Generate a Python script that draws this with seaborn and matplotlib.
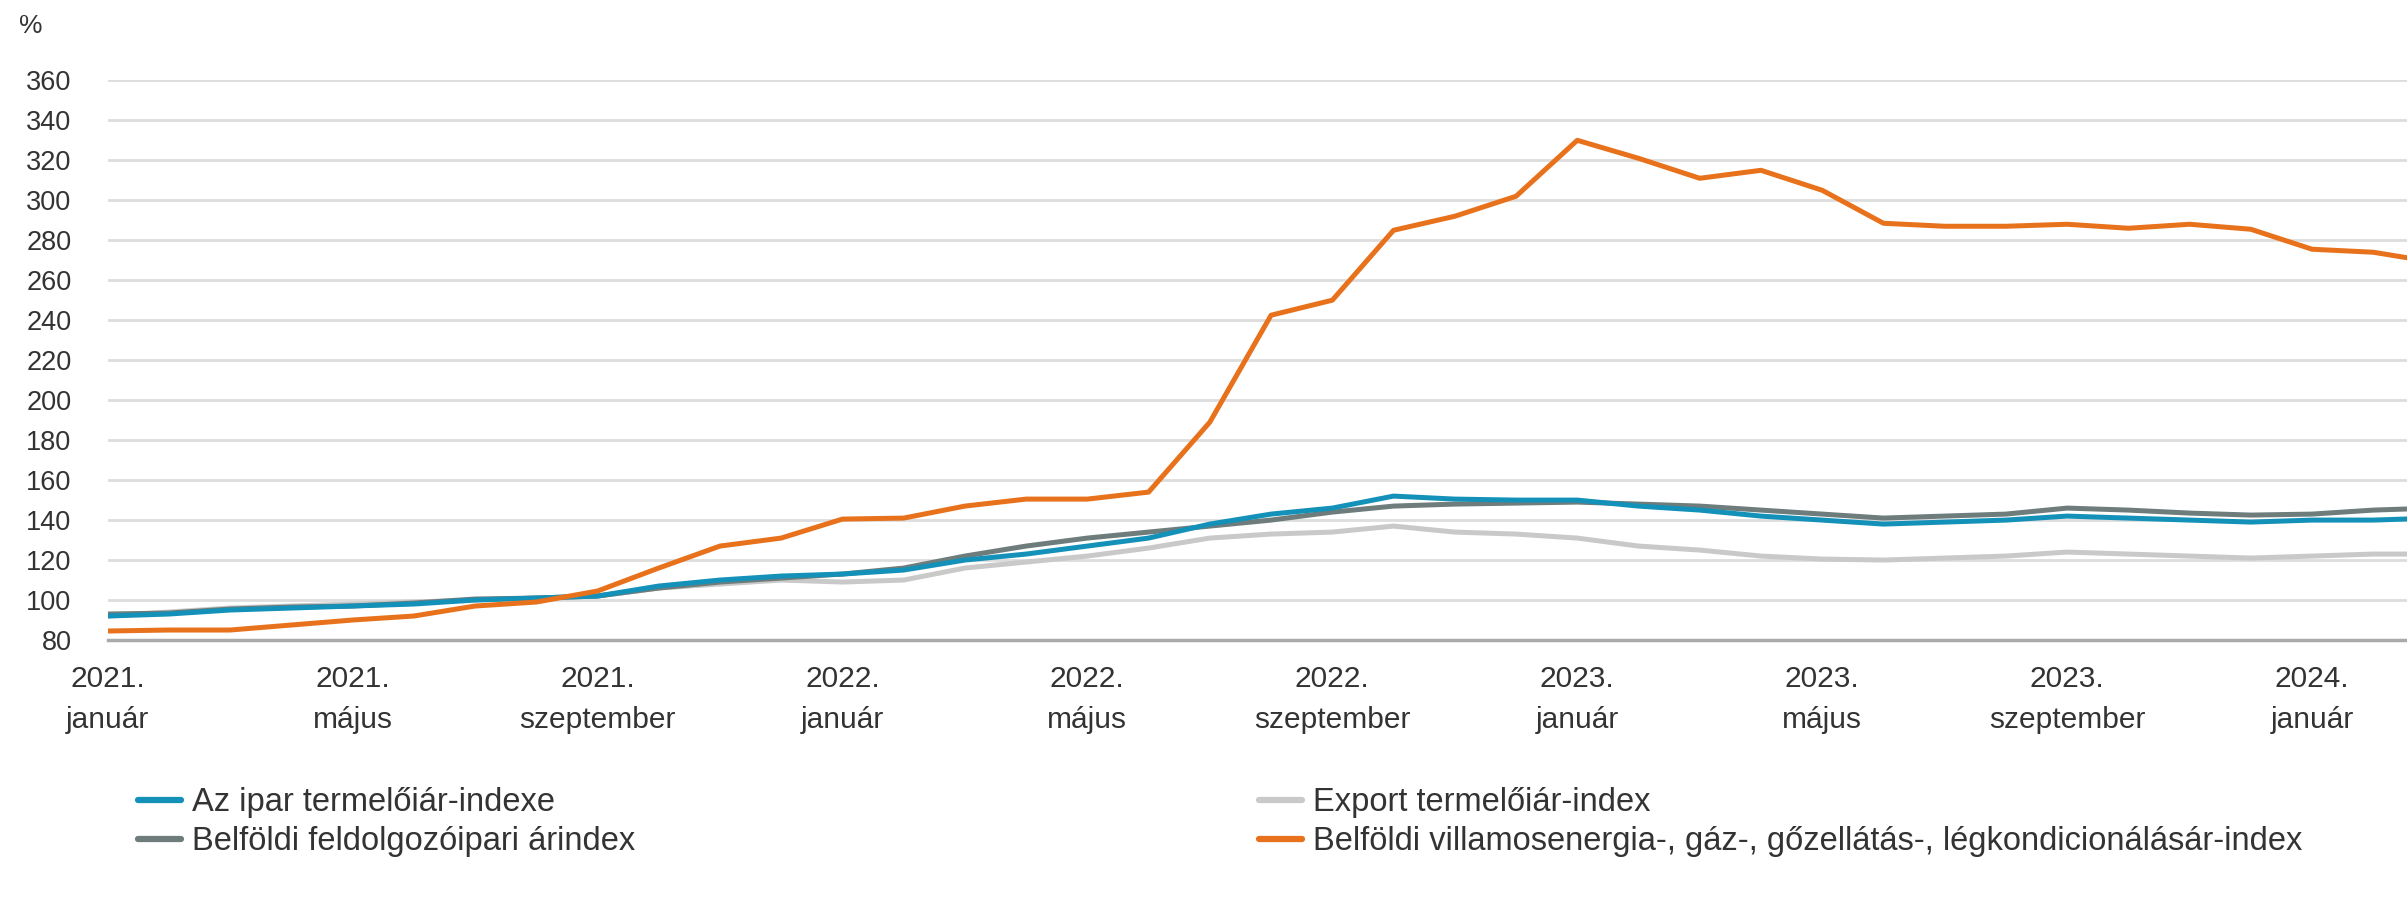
import pandas as pd
import seaborn as sns
import matplotlib
matplotlib.use('Agg')
import matplotlib.pyplot as plt
from matplotlib.lines import Line2D

# Monthly data, 2021 January .. 2024 March (index 0 = 2021 január)
series_names = [
    'Az ipar termelőiár-indexe',
    'Belföldi feldolgozóipari árindex',
    'Export termelőiár-index',
    'Belföldi villamosenergia-, gáz-, gőzellátás-, légkondicionálásár-index',
]

ipar = [92, 93, 95, 96, 97, 98, 100, 101, 102, 107, 110, 112,
        113, 115, 120, 123, 127, 131, 138, 143, 146, 152, 150.5, 150,
        150, 147, 145, 142, 140, 138, 139, 140, 142, 141, 140, 139,
        140, 140, 141]
feldolgozo = [93, 93.5, 95.5, 96.5, 97, 98.5, 100.5, 101, 102, 106, 109, 111,
              113, 116, 122, 127, 131, 134, 137, 140, 144, 147, 148, 148.5,
              149, 148, 147, 145, 143, 141, 142, 143, 146, 145, 143.5, 142.5,
              143, 145, 146]
export = [92, 94, 96, 97, 98, 99, 100, 101, 102, 106, 108, 110,
          109, 110, 116, 119, 122, 126, 131, 133, 134, 137, 134, 133,
          131, 127, 125, 122, 120.5, 120, 121, 122, 124, 123, 122, 121,
          122, 123, 123]
energia = [84.5, 85, 85, 87.5, 90, 92, 97, 99, 104.5, 116, 127, 131,
           140.5, 141, 147, 150.5, 150.5, 154, 189, 242.5, 250, 285, 292, 302,
           330, 321, 311, 315, 305, 288.5, 287, 287, 288, 286, 288, 285.5,
           275.5, 274, 269]

tick_pos = [0, 4, 8, 12, 16, 20, 24, 28, 32, 36]
tick_labels = ['2021.\njanuár', '2021.\nmájus', '2021.\nszeptember',
               '2022.\njanuár', '2022.\nmájus', '2022.\nszeptember',
               '2023.\njanuár', '2023.\nmájus', '2023.\nszeptember',
               '2024.\njanuár']
y_ticks = list(range(80, 361, 20))

colors = ['#1391b8', '#6e7c7c', '#c9c9c9', '#e8711c']

# long-form table for seaborn
frames = []
for name, vals in zip(series_names, [ipar, feldolgozo, export, energia]):
    frames.append(pd.DataFrame({'month': range(len(vals)), 'value': vals, 'series': name}))
df = pd.concat(frames, ignore_index=True)

sns.set_style('white')
plt.rcParams['font.family'] = ['Liberation Sans', 'DejaVu Sans']
text_col = '#333333'

fig = plt.figure(figsize=(24.07, 9.13), dpi=100)
ax = fig.add_axes([0.0447, 0.299, 0.9553, 0.613])

# draw order: light gray behind, then dark gray, blue, orange on top
order = [2, 1, 0, 3]
for i in order:
    sub = df[df['series'] == series_names[i]]
    sns.lineplot(data=sub, x='month', y='value', color=colors[i], linewidth=3.6,
                 ax=ax, legend=False)

ax.set_xlim(0, 37.55)
ax.set_ylim(80, 360)
ax.set_yticks(y_ticks)
ax.set_yticklabels([str(v) for v in y_ticks], fontsize=19.5, color=text_col)
ax.set_xticks(tick_pos)
ax.set_xticklabels(tick_labels, fontsize=21.5, color=text_col, linespacing=1.6)
ax.set_xlabel('')
ax.set_ylabel('')

ax.grid(axis='y', color='#dddddd', linewidth=2)
ax.grid(axis='x', visible=False)
ax.set_axisbelow(True)
for s in ['top', 'right', 'left']:
    ax.spines[s].set_visible(False)
ax.spines['bottom'].set_color('#aaaaaa')
ax.spines['bottom'].set_linewidth(2.5)
ax.tick_params(axis='x', length=14, width=1.5, color='#aaaaaa', pad=4)
ax.tick_params(axis='y', length=0, pad=26)

fig.text(0.008, 0.972, '%', fontsize=19, color=text_col, va='center', ha='left')

# legends in two columns
handles = [Line2D([0], [0], color=c, linewidth=4.5) for c in colors]
leg_kw = dict(loc='upper left', frameon=False, fontsize=23.5, handlelength=1.32,
              handletextpad=0.34, labelspacing=0.26, borderpad=0,
              borderaxespad=0, labelcolor=text_col)
fig.legend(handles[:2], series_names[:2],
           bbox_to_anchor=(0.0574, 0.138), bbox_transform=fig.transFigure, **leg_kw)
fig.legend(handles[2:], series_names[2:],
           bbox_to_anchor=(0.523, 0.138), bbox_transform=fig.transFigure, **leg_kw)

fig.savefig('out.png', dpi=100)
plt.close(fig)
